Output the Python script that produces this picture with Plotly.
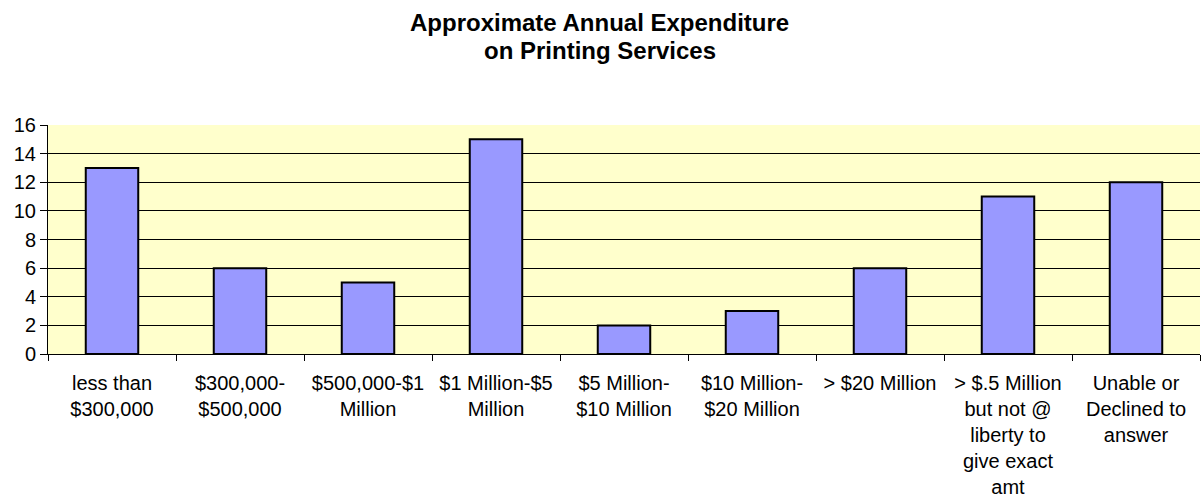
import plotly.graph_objects as go

categories = [
    "less than<br>$300,000",
    "$300,000-<br>$500,000",
    "$500,000-$1<br>Million",
    "$1 Million-$5<br>Million",
    "$5 Million-<br>$10 Million",
    "$10 Million-<br>$20 Million",
    "> $20 Million",
    "> $.5 Million<br>but not @<br>liberty to<br>give exact<br>amt",
    "Unable or<br>Declined to<br>answer",
]
values = [13, 6, 5, 15, 2, 3, 6, 11, 12]
y_ticks = [0, 2, 4, 6, 8, 10, 12, 14, 16]
title_lines = ["Approximate Annual Expenditure", "on Printing Services"]

FONT = "Arial, 'Liberation Sans', sans-serif"

PLOT_TOP = 125
PLOT_H = 504 - 125 - 150

fig = go.Figure(
    go.Bar(
        x=categories,
        y=values,
        width=0.41,
        marker=dict(color="#9999FF", line=dict(color="black", width=2)),
        hoverinfo="x+y",
    )
)

fig.update_layout(
    width=1202,
    height=504,
    margin=dict(l=48, r=2, t=PLOT_TOP, b=150),
    paper_bgcolor="white",
    plot_bgcolor="#FFFFCC",
    font=dict(family=FONT, size=20, color="black"),
    showlegend=False,
)

for text, cy in zip(title_lines, [22.5, 50.5]):
    fig.add_annotation(
        text=f"<b>{text}</b>",
        xref="paper",
        yref="paper",
        x=0.479,
        y=1 + (PLOT_TOP - cy) / PLOT_H,
        xanchor="center",
        yanchor="middle",
        showarrow=False,
        font=dict(family=FONT, size=24, color="black"),
    )

fig.update_xaxes(
    type="category",
    showline=True,
    linecolor="black",
    linewidth=1,
    ticks="outside",
    tickson="boundaries",
    ticklen=6,
    tickcolor="black",
    showgrid=False,
    tickangle=0,
    ticklabelstandoff=11,
    tickfont=dict(family=FONT, size=20, color="black"),
)

fig.update_yaxes(
    range=[0, 16],
    tickvals=y_ticks,
    showline=True,
    linecolor="black",
    linewidth=1,
    ticks="outside",
    ticklen=7,
    tickcolor="black",
    showgrid=True,
    gridcolor="black",
    gridwidth=1,
    zeroline=False,
    tickfont=dict(family=FONT, size=20, color="black"),
)

fig.write_html("out.html")
